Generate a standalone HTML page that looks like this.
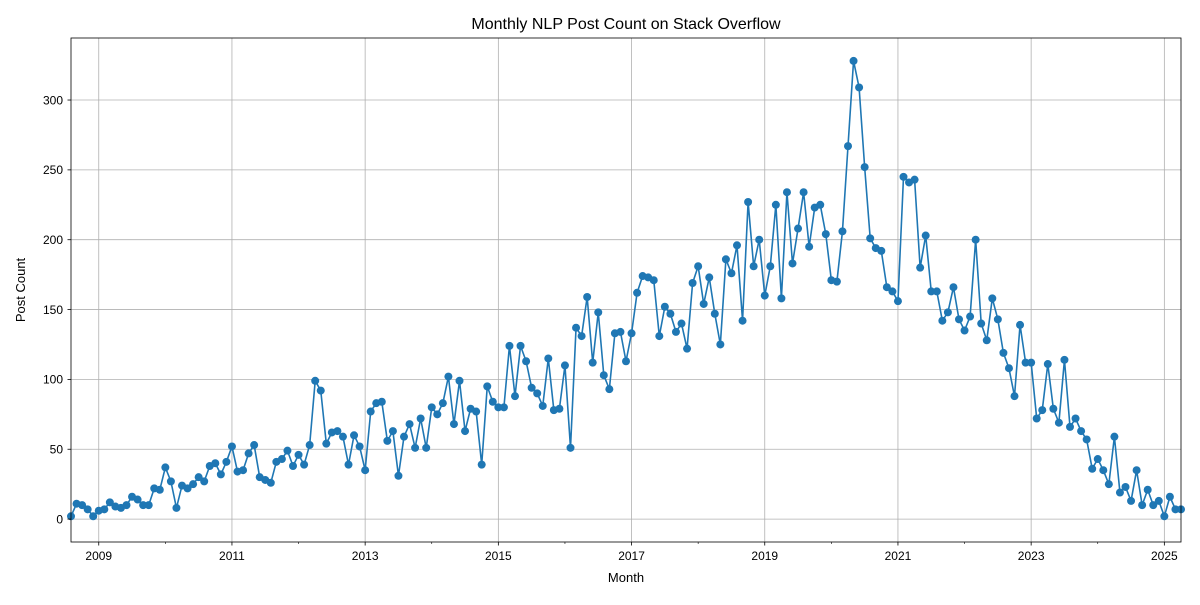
<!DOCTYPE html>
<html><head><meta charset="utf-8"><style>
body{margin:0;background:#fff;font-family:"Liberation Sans",sans-serif}
svg text{font-family:"Liberation Sans",sans-serif;fill:#000}
</style></head><body>
<svg id="chart" width="1200" height="600" xmlns="http://www.w3.org/2000/svg">
<text x="626" y="29" font-size="16" text-anchor="middle">Monthly NLP Post Count on Stack Overflow</text>
<text x="626" y="582" font-size="13" text-anchor="middle">Month</text>
<text x="0" y="0" font-size="13" text-anchor="middle" transform="translate(25,290) rotate(-90)">Post Count</text>
<g id="grid"></g>
<g id="series"></g>
<g id="axes"></g>
</svg>
<script>
const startYear = 2008, startMonth = 8;
const postCounts = [2,11,10,7,2,
6,7,12,9,8,10,16,14,10,10,22,21,
37,27,8,24,22,25,30,27,38,40,32,41,
52,34,35,47,53,30,28,26,41,43,49,38,
46,39,53,99,92,54,62,63,59,39,60,52,
35,77,83,84,56,63,31,59,68,51,72,51,
80,75,83,102,68,99,63,79,77,39,95,84,
80,80,124,88,124,113,94,90,81,115,78,79,
110,51,137,131,159,112,148,103,93,133,134,113,
133,162,174,173,171,131,152,147,134,140,122,169,
181,154,173,147,125,186,176,196,142,227,181,200,
160,181,225,158,234,183,208,234,195,223,225,204,
171,170,206,267,328,309,252,201,194,192,166,163,
156,245,241,243,180,203,163,163,142,148,166,143,
135,145,200,140,128,158,143,119,108,88,139,112,
112,72,78,111,79,69,114,66,72,63,57,36,
43,35,25,59,19,23,13,35,10,21,10,13,
2,16,7,7];
const yTicks = [0,50,100,150,200,250,300];
const xTickYears = [2009,2011,2013,2015,2017,2019,2021,2023,2025];
const xMinorYears = [2010,2012,2014,2016,2018,2020,2022,2024];

const L=71,R=1181,T=38,B=542;
const n=postCounts.length;
const yMin=-16.4,yMax=344.4;
const xs=i=>L+(R-L)*i/(n-1);
const monthIdx=(y,m)=>(y-startYear)*12+(m-startMonth);
const ys=v=>B-(v-yMin)/(yMax-yMin)*(B-T);
const NS='http://www.w3.org/2000/svg';
function mk(tag,attrs,parent){const e=document.createElementNS(NS,tag);for(const k in attrs)e.setAttribute(k,attrs[k]);parent.appendChild(e);return e;}
const grid=document.getElementById('grid'),axes=document.getElementById('axes'),ser=document.getElementById('series');
yTicks.forEach(v=>{
  const y=ys(v);
  const g=mk('line',{x1:L,x2:R,y1:y,y2:y,stroke:'#b0b0b0','stroke-width':0.8},grid);
  
  
  mk('line',{x1:L-3.5,x2:L,y1:y,y2:y,stroke:'#000','stroke-width':0.8},axes);
  const t=mk('text',{x:L-8,y:y+4.3,'font-size':12,'text-anchor':'end'},axes);
  t.textContent=v;
  
  
});
xTickYears.forEach(yr=>{
  const x=xs(monthIdx(yr,1));
  const g=mk('line',{x1:x,x2:x,y1:T,y2:B,stroke:'#b0b0b0','stroke-width':0.8},grid);
  
  
  mk('line',{x1:x,x2:x,y1:B,y2:B+3.5,stroke:'#000','stroke-width':0.8},axes);
  const t=mk('text',{x:x,y:B+18,'font-size':12,'text-anchor':'middle'},axes);
  t.textContent=yr;
  
  
});
xMinorYears.forEach(yr=>{
  const x=xs(monthIdx(yr,1));
  mk('line',{x1:x,x2:x,y1:B,y2:B+2,stroke:'#000','stroke-width':0.6},axes);
});
const border=mk('rect',{x:L,y:T,width:R-L,height:B-T,fill:'none',stroke:'#000','stroke-width':0.8},axes);


const pts=postCounts.map((v,i)=>xs(i).toFixed(2)+','+ys(v).toFixed(2)).join(' ');
const line=mk('polyline',{points:pts,fill:'none',stroke:'#1f77b4','stroke-width':1.6,'stroke-linejoin':'round'},ser);


postCounts.forEach((v,i)=>{
  const c=mk('circle',{cx:xs(i),cy:ys(v),r:4,fill:'#1f77b4'},ser);
  
  
});
</script>
</body></html>
